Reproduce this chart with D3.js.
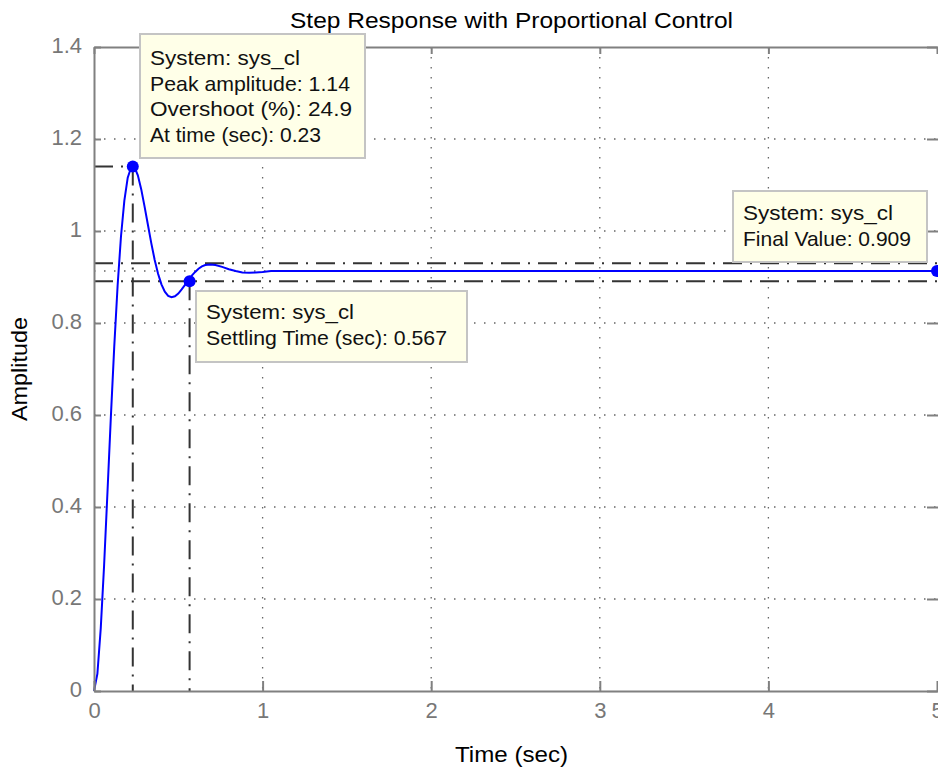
<!DOCTYPE html>
<html>
<head>
<meta charset="utf-8">
<script src="https://cdn.jsdelivr.net/npm/d3@7"></script>
<style>
  html, body { margin: 0; padding: 0; background: #fff; overflow: hidden; }
  svg { display: block; font-family: "Liberation Sans", Arial, sans-serif; }
  .grid line { stroke: #666; stroke-width: 1.3; stroke-dasharray: 1.5, 8.5; }
  .axis path, .axis line { stroke: #808080; stroke-width: 2; }
  .axis text { fill: #777; font-size: 22px; }
  .marker-line { stroke: #333; stroke-width: 2; stroke-dasharray: 19, 8, 2, 8; fill: none; }
  .tip rect { fill: #ffffe8; stroke: #c4c4c4; stroke-width: 2; }
  .tip text { fill: #111; font-size: 21px; }
</style>
</head>
<body>
<svg id="chart" width="938" height="768"></svg>
<script>
/* ── Data ──────────────────────────────────────────────────── */
const timeSec = [0, 0.02, 0.04, 0.06, 0.08, 0.10, 0.12, 0.14, 0.16, 0.18, 0.20,
  0.22, 0.23, 0.24, 0.26, 0.28, 0.30, 0.32, 0.34, 0.36, 0.38, 0.40, 0.42, 0.44,
  0.46, 0.48, 0.50, 0.52, 0.54, 0.56, 0.58, 0.60, 0.62, 0.64, 0.66, 0.69, 0.72,
  0.76, 0.80, 0.84, 0.88, 0.92, 0.96, 1.00, 1.05, 1.10, 1.20, 1.50, 2.0, 3.0, 4.0, 5.0];
const amplitude = [0, 0.037, 0.136, 0.274, 0.433, 0.596, 0.748, 0.881, 0.988, 1.066, 1.116,
  1.138, 1.141, 1.139, 1.121, 1.091, 1.053, 1.013, 0.973, 0.937, 0.907, 0.884, 0.868, 0.859,
  0.856, 0.858, 0.864, 0.873, 0.883, 0.893, 0.903, 0.911, 0.918, 0.923, 0.926, 0.927, 0.926,
  0.922, 0.917, 0.913, 0.910, 0.909, 0.910, 0.911, 0.913, 0.913, 0.913, 0.913, 0.913, 0.913, 0.913, 0.913];

const xTicks = [0, 1, 2, 3, 4, 5];
const yTicks = [0, 0.2, 0.4, 0.6, 0.8, 1.0, 1.2, 1.4];

const peakPoint = { t: 0.23, y: 1.14 };
const settlePoint = { t: 0.567, y: 0.891 };
const finalPoint = { t: 5, y: 0.913 };
const settleBand = [0.930, 0.891];
const steadyLevel = 0.913;

const peakTip = ['System: sys_cl', 'Peak amplitude: 1.14', 'Overshoot (%): 24.9', 'At time (sec): 0.23'];
const settleTip = ['System: sys_cl', 'Settling Time (sec): 0.567'];
const finalTip = ['System: sys_cl', 'Final Value: 0.909'];

const svg = d3.select('#chart');
const plotLeft = 94, plotRight = 937, plotTop = 47, plotBottom = 691;

const x = d3.scaleLinear().domain([0, 5]).range([plotLeft, plotRight]);
const y = d3.scaleLinear().domain([0, 1.4]).range([plotBottom, plotTop]);

/* ── Dotted grid ───────────────────────────────────────────── */
const grid = svg.append('g').attr('class', 'grid');
grid.selectAll('line.v').data(xTicks.slice(1, -1)).join('line').attr('class', 'v')
  .attr('x1', d => x(d)).attr('x2', d => x(d)).attr('y1', plotTop).attr('y2', plotBottom);
grid.selectAll('line.h').data(yTicks.slice(1, -1)).join('line').attr('class', 'h')
  .attr('x1', plotLeft).attr('x2', plotRight).attr('y1', d => y(d)).attr('y2', d => y(d));
grid.append('line')
  .attr('x1', plotLeft).attr('x2', plotRight).attr('y1', y(steadyLevel)).attr('y2', y(steadyLevel));

/* ── Characteristic dash-dot lines ─────────────────────────── */
const marks = svg.append('g');
settleBand.forEach(v => {
  marks.append('line').attr('class', 'marker-line')
    .attr('x1', x(0)).attr('x2', x(5)).attr('y1', y(v)).attr('y2', y(v));
});
marks.append('line').attr('class', 'marker-line')
  .attr('x1', x(0)).attr('x2', x(peakPoint.t)).attr('y1', y(peakPoint.y)).attr('y2', y(peakPoint.y));
marks.append('line').attr('class', 'marker-line')
  .attr('x1', x(peakPoint.t)).attr('x2', x(peakPoint.t)).attr('y1', y(peakPoint.y)).attr('y2', y(0));
marks.append('line').attr('class', 'marker-line')
  .attr('x1', x(settlePoint.t)).attr('x2', x(settlePoint.t)).attr('y1', y(settlePoint.y)).attr('y2', y(0));

/* ── Step response curve ───────────────────────────────────── */
const line = d3.line().x((d, i) => x(timeSec[i])).y(d => y(d));
svg.append('path')
  .datum(amplitude)
  .attr('d', line)
  .attr('fill', 'none')
  .attr('stroke', '#0000ff')
  .attr('stroke-width', 2);

/* ── Axes (ticks pointing inward, MATLAB style) ────────────── */
svg.append('g').attr('class', 'axis')
  .attr('transform', `translate(0,${plotBottom})`)
  .call(d3.axisBottom(x).tickValues(xTicks).tickSize(-10).tickSizeOuter(0).tickPadding(11).tickFormat(d3.format('d')));
svg.append('g').attr('class', 'axis')
  .attr('transform', `translate(${plotLeft},0)`)
  .call(d3.axisLeft(y).tickValues(yTicks).tickSize(-7).tickSizeOuter(0).tickPadding(12)
    .tickFormat(d => d === 0 ? '0' : (d === 1 ? '1' : d3.format('.1f')(d))))
  .selectAll('text').attr('dy', '0.27em');
svg.append('g').attr('class', 'axis')
  .attr('transform', `translate(0,${plotTop})`)
  .call(d3.axisTop(x).tickValues(xTicks).tickSize(-7).tickSizeOuter(0).tickFormat(''));
const rightAxis = svg.append('g').attr('class', 'axis')
  .attr('transform', `translate(${plotRight + 1},0)`)
  .call(d3.axisRight(y).tickValues(yTicks).tickSize(-11).tickSizeOuter(0).tickFormat(''));
rightAxis.select('.domain').remove();

/* ── Data-tip markers ──────────────────────────────────────── */
[peakPoint, settlePoint, finalPoint].forEach(p => {
  svg.append('circle').attr('cx', x(p.t)).attr('cy', y(p.y)).attr('r', 6).attr('fill', '#0000ff');
});

/* ── Data-tip boxes ────────────────────────────────────────── */
function tip(lines, bx, by, bw, bh, base, step, widths) {
  const g = svg.append('g').attr('class', 'tip');
  g.append('rect').attr('x', bx).attr('y', by).attr('width', bw).attr('height', bh);
  g.selectAll('text').data(lines).join('text')
    .attr('x', bx + 10)
    .attr('y', (d, i) => base + i * step)
    .attr('textLength', (d, i) => widths[i])
    .attr('lengthAdjust', 'spacingAndGlyphs')
    .text(d => d);
}
tip(peakTip, 140, 34, 225, 124, 65, 25.7, [150, 200, 202, 171]);
tip(settleTip, 196, 291, 271, 71, 319, 26, [148, 241]);
tip(finalTip, 733, 191, 194, 71, 220, 26, [150, 168]);

/* ── Titles ────────────────────────────────────────────────── */
svg.append('text').attr('x', 511.5).attr('y', 28).attr('text-anchor', 'middle')
  .attr('font-size', 22).attr('textLength', 443).attr('lengthAdjust', 'spacingAndGlyphs')
  .text('Step Response with Proportional Control');
svg.append('text').attr('x', 511.5).attr('y', 762).attr('text-anchor', 'middle')
  .attr('font-size', 22).attr('textLength', 113).attr('lengthAdjust', 'spacingAndGlyphs')
  .text('Time (sec)');
svg.append('text').attr('transform', 'translate(27,369) rotate(-90)').attr('text-anchor', 'middle')
  .attr('font-size', 22).attr('textLength', 104).attr('lengthAdjust', 'spacingAndGlyphs')
  .text('Amplitude');
</script>
</body>
</html>
